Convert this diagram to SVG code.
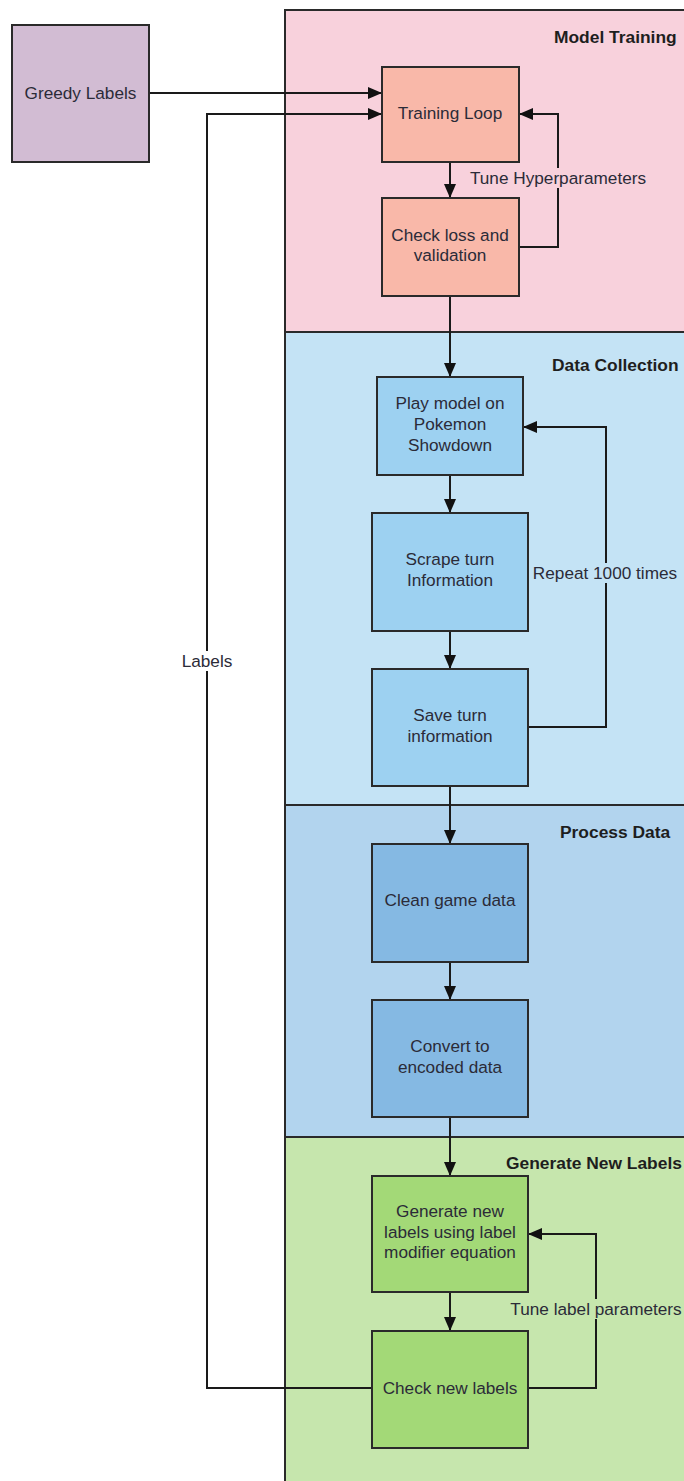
<svg xmlns="http://www.w3.org/2000/svg" width="684" height="1481" viewBox="0 0 684 1481">
<style>
.lane{stroke:#2a2a2a;stroke-width:2}
.box{stroke:#2a2a2a;stroke-width:2}
.t{font-family:"Liberation Sans",Arial,sans-serif;font-size:17.2px;fill:#2b2b38;text-anchor:middle}
.h{font-family:"Liberation Sans",Arial,sans-serif;font-size:17.4px;font-weight:bold;fill:#1e1e1e}
.c{fill:none;stroke:#1a1a1a;stroke-width:2}
</style>
<defs>
<marker id="ah" markerUnits="userSpaceOnUse" markerWidth="14" markerHeight="14" viewBox="0 0 14 14" refX="13" refY="7" orient="auto">
<path d="M0,1 L14,7 L0,13 Z" fill="#111"/>
</marker>
</defs>
<rect width="684" height="1481" fill="#ffffff"/>

<g id="lane-model-training">
<rect class="lane" x="285" y="10" width="420" height="322" fill="#f8d1dc"/>
<text class="h" x="554" y="43">Model Training</text>
</g>
<g id="lane-data-collection">
<rect class="lane" x="285" y="332" width="420" height="473" fill="#c4e3f5"/>
<text class="h" x="552" y="371">Data Collection</text>
</g>
<g id="lane-process-data">
<rect class="lane" x="285" y="805" width="420" height="332" fill="#b2d4ee"/>
<text class="h" x="560" y="838">Process Data</text>
</g>
<g id="lane-generate-new-labels">
<rect class="lane" x="285" y="1137" width="420" height="360" fill="#c6e6ad"/>
<text class="h" x="506" y="1169">Generate New Labels</text>
</g>

<g id="connectors">
<path class="c" d="M149,93 H381" marker-end="url(#ah)"/>
<path class="c" d="M450,162 V197" marker-end="url(#ah)"/>
<path class="c" d="M519,247 H558 V114 H520" marker-end="url(#ah)"/>
<path class="c" d="M450,296 V376" marker-end="url(#ah)"/>
<path class="c" d="M450,475 V512" marker-end="url(#ah)"/>
<path class="c" d="M450,631 V668" marker-end="url(#ah)"/>
<path class="c" d="M528,727 H606 V427 H524" marker-end="url(#ah)"/>
<path class="c" d="M450,786 V843" marker-end="url(#ah)"/>
<path class="c" d="M450,962 V999" marker-end="url(#ah)"/>
<path class="c" d="M450,1117 V1175" marker-end="url(#ah)"/>
<path class="c" d="M450,1292 V1330" marker-end="url(#ah)"/>
<path class="c" d="M528,1388 H596 V1234 H529" marker-end="url(#ah)"/>
<path class="c" d="M372,1388 H207 V114 H381" marker-end="url(#ah)"/>
<rect x="468" y="168" width="182" height="20" fill="#f8d1dc"/>
<text class="t" x="558" y="184">Tune Hyperparameters</text>
<rect x="530" y="563" width="154" height="20" fill="#c4e3f5"/>
<text class="t" x="605" y="579">Repeat 1000 times</text>
<rect x="506" y="1299" width="178" height="20" fill="#c6e6ad"/>
<text class="t" x="596" y="1315">Tune label parameters</text>
<rect x="178" y="651" width="58" height="20" fill="#ffffff"/>
<text class="t" x="207" y="667">Labels</text>
</g>

<g id="node-greedy-labels">
<rect class="box" x="12" y="25" width="137" height="137" fill="#d2bcd3"/>
<text class="t" x="80.5" y="99">Greedy Labels</text>
</g>
<g id="node-training-loop">
<rect class="box" x="382" y="67" width="137" height="95" fill="#f9b8a9"/>
<text class="t" x="450" y="119">Training Loop</text>
</g>
<g id="node-check-loss">
<rect class="box" x="382" y="198" width="137" height="98" fill="#f9b8a9"/>
<text class="t" x="450" y="241">Check loss and</text>
<text class="t" x="450" y="261">validation</text>
</g>
<g id="node-play-model">
<rect class="box" x="377" y="377" width="146" height="98" fill="#9dd1f1"/>
<text class="t" x="450" y="409">Play model on</text>
<text class="t" x="450" y="430">Pokemon</text>
<text class="t" x="450" y="451">Showdown</text>
</g>
<g id="node-scrape">
<rect class="box" x="372" y="513" width="156" height="118" fill="#9dd1f1"/>
<text class="t" x="450" y="565">Scrape turn</text>
<text class="t" x="450" y="586">Information</text>
</g>
<g id="node-save">
<rect class="box" x="372" y="669" width="156" height="117" fill="#9dd1f1"/>
<text class="t" x="450" y="721">Save turn</text>
<text class="t" x="450" y="742">information</text>
</g>
<g id="node-clean">
<rect class="box" x="372" y="844" width="156" height="118" fill="#85b9e3"/>
<text class="t" x="450" y="906">Clean game data</text>
</g>
<g id="node-convert">
<rect class="box" x="372" y="1000" width="156" height="117" fill="#85b9e3"/>
<text class="t" x="450" y="1052">Convert to</text>
<text class="t" x="450" y="1073">encoded data</text>
</g>
<g id="node-generate">
<rect class="box" x="372" y="1176" width="156" height="116" fill="#a3d977"/>
<text class="t" x="450" y="1217">Generate new</text>
<text class="t" x="450" y="1238">labels using label</text>
<text class="t" x="450" y="1258">modifier equation</text>
</g>
<g id="node-check-new">
<rect class="box" x="372" y="1331" width="156" height="117" fill="#a3d977"/>
<text class="t" x="450" y="1394">Check new labels</text>
</g>
</svg>
